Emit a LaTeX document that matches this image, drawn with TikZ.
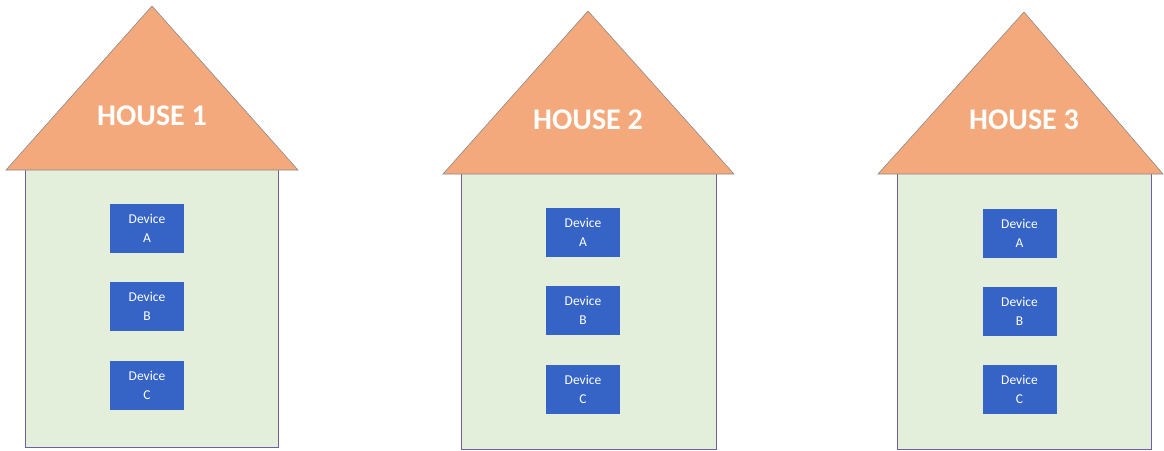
\documentclass[tikz,border=0pt]{standalone}
\usepackage{fontspec}
\setmainfont{Carlito}
\definecolor{roof}{HTML}{F3A97B}
\definecolor{roofline}{HTML}{8A8A8A}
\definecolor{wall}{HTML}{E3EFDA}
\definecolor{wallline}{HTML}{6E5FA0}
\definecolor{dev}{HTML}{3564C6}
\tikzset{
  roofshape/.style={fill=roof, draw=roofline, line width=0.6pt, line join=miter},
  wallshape/.style={fill=wall, draw=wallline, line width=1pt},
  devbox/.style={fill=dev, draw=none, minimum width=74pt, minimum height=49pt, inner sep=0pt,
    text=white, font=\fontsize{13.5}{19}\selectfont, align=center},
  houselabel/.style={text=white, font=\bfseries\fontsize{30}{32}\selectfont, inner sep=0pt}
}
\begin{document}
\begin{tikzpicture}[x=1pt,y=-1pt]
\useasboundingbox (0,0) rectangle (1164,450);
% House 1
\draw[wallshape] (25,170) -- (25,447) -- (278,447) -- (278,170);
\fill[wall] (25.5,170) rectangle (277.5,446.5);
\draw[roofshape] (152,6) -- (298,170) -- (6,170) -- cycle;
\node[houselabel] (h1) at (152,116) {HOUSE 1};
\node[devbox] (h1a) at (147,228.5) {Device\\A};
\node[devbox] (h1b) at (147,306.5) {Device\\B};
\node[devbox] (h1c) at (147,385) {Device\\C};
% House 2
\draw[wallshape] (461,174) -- (461,449) -- (716,449) -- (716,174);
\fill[wall] (461.5,174) rectangle (715.5,448.5);
\draw[roofshape] (588,11) -- (734,174) -- (443,174) -- cycle;
\node[houselabel] (h2) at (588,120) {HOUSE 2};
\node[devbox] (h2a) at (583,232.5) {Device\\A};
\node[devbox] (h2b) at (583,310.5) {Device\\B};
\node[devbox] (h2c) at (583,389.5) {Device\\C};
% House 3
\draw[wallshape] (897,174) -- (897,449) -- (1151,449) -- (1151,174);
\fill[wall] (897.5,174) rectangle (1150.5,448.5);
\draw[roofshape] (1024,12) -- (1163,174) -- (878,174) -- cycle;
\node[houselabel] (h3) at (1024,120) {HOUSE 3};
\node[devbox] (h3a) at (1019.5,233.5) {Device\\A};
\node[devbox] (h3b) at (1019.5,311.5) {Device\\B};
\node[devbox] (h3c) at (1019.5,389) {Device\\C};
\end{tikzpicture}
\end{document}
